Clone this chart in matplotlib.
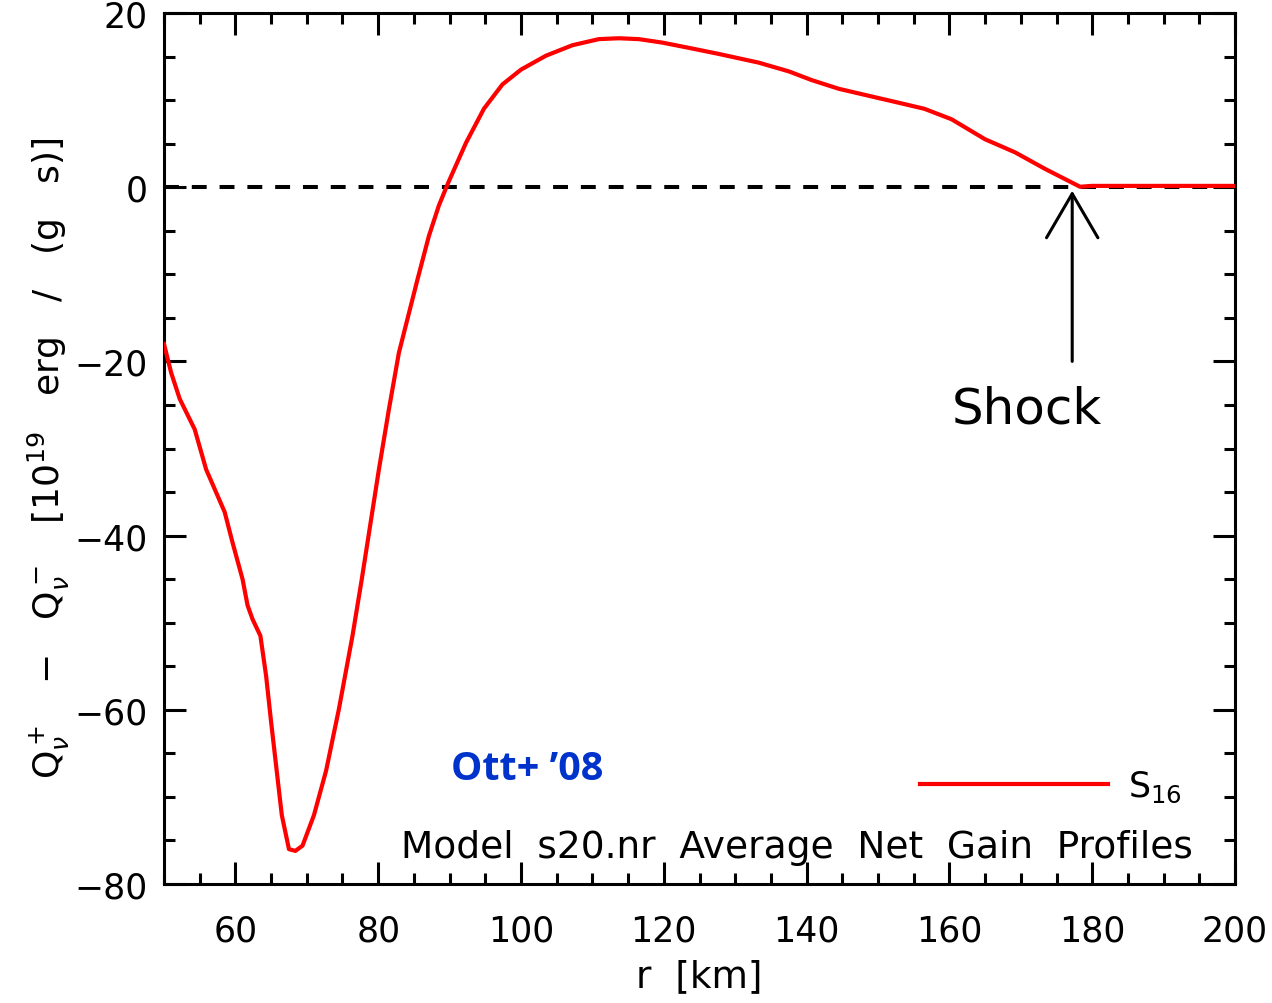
import matplotlib
matplotlib.use("Agg")
import matplotlib.pyplot as plt
from matplotlib.ticker import MultipleLocator

# ---- data ----
r_km = [50.0, 51.0, 52.2, 54.3, 55.9, 58.5, 59.6, 61.0, 61.7, 62.4, 63.5, 64.3,
        65.0, 65.7, 66.5, 67.5, 68.4, 69.4, 71.0, 72.7, 74.5, 76.4, 77.7, 80.1,
        81.5, 82.9, 85.5, 87.1, 88.5, 89.8, 92.3, 94.8, 97.4, 100.0, 103.5, 107.2,
        110.9, 113.7, 116.5, 119.8, 123.5, 127.7, 133.3, 137.5, 140.7, 144.5,
        149.2, 153.4, 156.5, 160.3, 165.0, 169.2, 173.4, 178.3, 179.9, 200.0]
net_gain = [-18.0, -21.3, -24.3, -27.8, -32.4, -37.3, -40.8, -45.0, -48.0, -49.6,
            -51.5, -56.1, -61.4, -66.4, -72.1, -76.0, -76.2, -75.6, -72.1, -67.0,
            -59.9, -51.5, -45.0, -32.4, -25.5, -19.0, -10.6, -5.6, -2.1, 0.5, 5.1,
            9.0, 11.8, 13.5, 15.1, 16.3, 17.0, 17.1, 17.0, 16.6, 16.0, 15.3, 14.3,
            13.3, 12.3, 11.3, 10.4, 9.6, 9.0, 7.8, 5.5, 4.0, 2.1, 0.05, 0.15, 0.15]
series_label = "S$_{16}$"
shock_r = 177.2
xticks = [60, 80, 100, 120, 140, 160, 180, 200]
yticks = [-80, -60, -40, -20, 0, 20]

plt.rcParams['font.family'] = ['DejaVu Sans']
plt.rcParams['mathtext.fontset'] = 'dejavusans'

fig = plt.figure(figsize=(12.72, 10.04), dpi=100)
ax = fig.add_axes([164/1272, 1 - 885/1004, (1235-164)/1272, (885-14)/1004])

ax.axhline(0, color='black', lw=2.9, dashes=(3.7, 3.2), zorder=2)
ax.plot(r_km, net_gain, color='#ff0000', lw=3.0, label=series_label, zorder=3)

ax.set_xlim(50, 200)
ax.set_ylim(-80, 20)
ax.set_xticks(xticks)
ax.set_yticks(yticks)
ax.xaxis.set_minor_locator(MultipleLocator(5))
ax.yaxis.set_minor_locator(MultipleLocator(5))
ax.tick_params(which='both', direction='in', top=True, right=True, width=2.2,
               labelsize=25)
ax.tick_params(which='major', length=15.8)
ax.tick_params(which='minor', length=7.9)
ax.tick_params(axis='x', which='major', pad=21)
ax.tick_params(axis='y', which='major', pad=12)
for s in ax.spines.values():
    s.set_linewidth(2.2)

ax.set_xlabel("r  [km]", fontsize=27)
ax.xaxis.set_label_coords(0.5, -0.085)
ax.set_ylabel(r"Q$_\nu^+$   $-$   Q$_\nu^-$   [10$^{19}$   erg   /   (g   s)]",
              fontsize=26)
ax.yaxis.set_label_coords(-0.086, 0.49)

# Shock annotation
ax.annotate("", xy=(shock_r, -0.4), xytext=(shock_r, -20),
            arrowprops=dict(arrowstyle="->,head_length=31.7,head_width=18.5",
                            mutation_scale=1, color='black', lw=2.2,
                            shrinkA=0, shrinkB=0))
ax.text(170.8, -27.0, "Shock", fontsize=36, ha='center', va='baseline')

ax.text(0.961, 0.031, "Model  s20.nr  Average  Net  Gain  Profiles", fontsize=27,
        ha='right', va='baseline', transform=ax.transAxes)
ax.text(0.339, 0.1205, "Ott+ \u201908", fontsize=28.5, fontweight='bold',
        family=['Open Sans', 'DejaVu Sans'], color='#0033cc',
        ha='center', va='baseline', transform=ax.transAxes)

leg = ax.legend(loc='center left', bbox_to_anchor=(0.706, 0.112), frameon=False,
                fontsize=25, handlelength=5.4, handletextpad=0.6,
                borderpad=0, borderaxespad=0)

fig.savefig("out.png", dpi=100)
